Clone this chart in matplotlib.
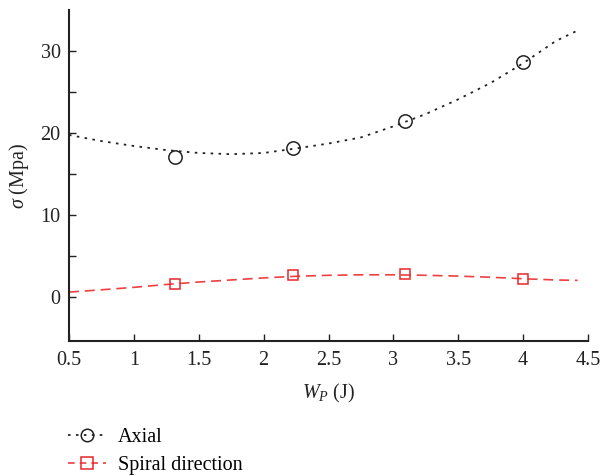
import numpy as np
import matplotlib.pyplot as plt
from matplotlib.lines import Line2D
from matplotlib.ticker import FixedLocator, FormatStrFormatter

plt.rcParams["font.family"] = ["Liberation Serif", "DejaVu Serif"]
plt.rcParams["mathtext.fontset"] = "custom"
plt.rcParams["mathtext.it"] = "Liberation Serif:italic"
plt.rcParams["mathtext.rm"] = "Liberation Serif"

# measured points
wp = [1.32, 2.23, 3.09, 4.0]
axial = [17.1, 18.2, 21.4, 28.7]
spiral = [1.6, 2.6, 2.8, 2.2]

# trend curves
fit_x = [0.5, 0.75, 1.0, 1.25, 1.5, 1.75, 2.0, 2.25, 2.5, 2.75, 3.0,
         3.25, 3.5, 3.75, 4.0, 4.25, 4.42]
axial_fit = [19.75, 19.0, 18.4, 17.9, 17.55, 17.4, 17.55, 18.1, 18.7, 19.45,
             20.8, 22.3, 24.1, 26.1, 28.5, 31.2, 32.5]
spiral_fit = [0.57, 0.85, 1.15, 1.5, 1.8, 2.05, 2.3, 2.5, 2.62, 2.68, 2.68,
              2.62, 2.52, 2.38, 2.2, 2.05, 2.0]

red = "#e8262b"
red_line = "#ee4040"
ink = "#222222"
fs = 14.5

fig = plt.figure(figsize=(6.01, 4.76), dpi=100)
ax = fig.add_axes([0.1148, 0.2836, 0.8636, 0.6954])

ax.plot(fit_x, axial_fit, color=ink, lw=1.3, linestyle=(0, (1.4, 3.0)))
ax.plot(wp, axial, linestyle="none", marker="o", ms=9.6, mfc="none",
        mec=ink, mew=1.1)
ax.plot(fit_x, spiral_fit, color=red_line, lw=1.2, linestyle=(0, (6, 3.5)))
ax.plot(wp, spiral, linestyle="none", marker="s", ms=7.7, mfc="none",
        mec=red, mew=1.1)

ax.set_xlim(0.5, 4.5)
ax.set_ylim(-5.4, 35)
ax.set_xticks(np.arange(0.5, 4.51, 0.5))
ax.xaxis.set_major_formatter(FormatStrFormatter("%g"))
ax.yaxis.set_major_locator(FixedLocator([0, 10, 20, 30]))
ax.yaxis.set_minor_locator(FixedLocator([5, 15, 25]))

for s in ["top", "right"]:
    ax.spines[s].set_visible(False)
for s in ["left", "bottom"]:
    ax.spines[s].set_linewidth(1.5)
    ax.spines[s].set_color(ink)

ax.tick_params(which="both", direction="in", length=5, width=1.0,
               colors=ink, labelsize=fs)
ax.tick_params(axis="x", pad=7)
ax.tick_params(axis="y", pad=6)

ax.set_xlabel(r"$W_P$ (J)", fontsize=fs, color=ink)
ax.xaxis.set_label_coords(0.5, -0.124)
ax.set_ylabel(r"$\sigma$ (Mpa)", fontsize=fs, color=ink, va="center")
ax.yaxis.set_label_coords(-0.097, 0.5)

handles = [
    Line2D([], [], color=ink, lw=1.3, linestyle=(0, (1.4, 3.0)),
           marker="o", ms=9, mfc="none", mec=ink, mew=1.1),
    Line2D([], [], color=red_line, lw=1.2, linestyle=(0, (4, 3)),
           marker="s", ms=8, mfc="none", mec=red, mew=1.1),
]
fig.legend(handles, ["Axial", "Spiral direction"], loc="upper left",
           bbox_to_anchor=(0.113, 0.1), frameon=False, fontsize=fs,
           handlelength=1.9, handletextpad=0.6, labelspacing=0.4,
           borderaxespad=0, borderpad=0)

fig.savefig("out.png", dpi=100)
